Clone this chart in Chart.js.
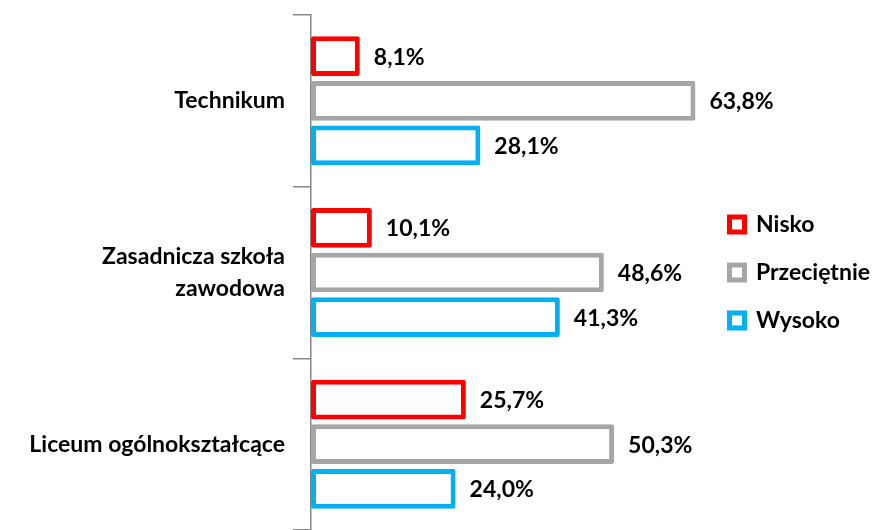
<!DOCTYPE html>
<html>
<head>
<meta charset="utf-8">
<script src="https://cdn.jsdelivr.net/npm/chart.js@4"></script>
<style>
  body { margin: 0; background: #fff; }
</style>
</head>
<body>
<canvas id="barChart" width="880" height="530"></canvas>
<script>
const categories = ['Technikum', ['Zasadnicza szkoła', 'zawodowa'], 'Liceum ogólnokształcące'];
const seriesNames = ['Nisko', 'Przeciętnie', 'Wysoko'];
const nisko = [8.1, 10.1, 25.7];
const przecietnie = [63.8, 48.6, 50.3];
const wysoko = [28.1, 41.3, 24.0];
const seriesColors = ['#FF0000', '#A6A6A6', '#00B0F0'];

const fontFamily = 'Lato, "Open Sans", sans-serif';

const makeSet = (label, data, color) => ({
    label: label,
    data: data,
    backgroundColor: '#ffffff',
    borderColor: color,
    borderWidth: 5,
    borderSkipped: false,
    borderRadius: 2,
    categoryPercentage: 0.78,
    barPercentage: 0.89
});

// value labels to the right of each bar
const valueLabels = {
    id: 'valueLabels',
    afterDatasetsDraw(chart) {
        const ctx = chart.ctx;
        ctx.save();
        ctx.font = 'bold 23px ' + fontFamily;
        ctx.fillStyle = '#000';
        ctx.textAlign = 'left';
        ctx.textBaseline = 'middle';
        chart.data.datasets.forEach((ds, i) => {
            chart.getDatasetMeta(i).data.forEach((bar, j) => {
                const txt = ds.data[j].toFixed(1).replace('.', ',') + '%';
                ctx.fillText(txt, bar.x + 14, bar.y + 1);
            });
        });
        ctx.restore();
    }
};

const barCtx = document.getElementById('barChart').getContext('2d');
const barChart = new Chart(barCtx, {
    type: 'bar',
    data: {
        labels: categories,
        datasets: [
            makeSet(seriesNames[0], nisko, seriesColors[0]),
            makeSet(seriesNames[1], przecietnie, seriesColors[1]),
            makeSet(seriesNames[2], wysoko, seriesColors[2])
        ]
    },
    options: {
        indexAxis: 'y',
        responsive: false,
        animation: false,
        layout: {
            padding: { top: 15, left: 10, right: 0, bottom: 0 }
        },
        scales: {
            x: {
                display: false,
                min: 0,
                max: 65.3
            },
            y: {
                afterFit(scale) {
                    scale.width = 301;
                    scale.paddingTop = 0;
                    scale.paddingBottom = 0;
                },
                border: { display: true, color: '#868686', width: 1.5 },
                grid: {
                    display: true,
                    drawOnChartArea: false,
                    drawTicks: true,
                    tickLength: 18,
                    color: '#868686',
                    lineWidth: 1.5
                },
                ticks: {
                    color: '#000',
                    padding: 8,
                    font: { family: fontFamily, size: 23, weight: 'bold', lineHeight: 1.4 }
                }
            }
        },
        plugins: {
            tooltip: { enabled: false },
            legend: {
                position: 'right',
                labels: {
                    color: '#000',
                    boxWidth: 15,
                    boxHeight: 15,
                    padding: 25,
                    font: { family: fontFamily, size: 23, weight: 'bold' }
                }
            }
        }
    },
    plugins: [valueLabels]
});
</script>
</body>
</html>
